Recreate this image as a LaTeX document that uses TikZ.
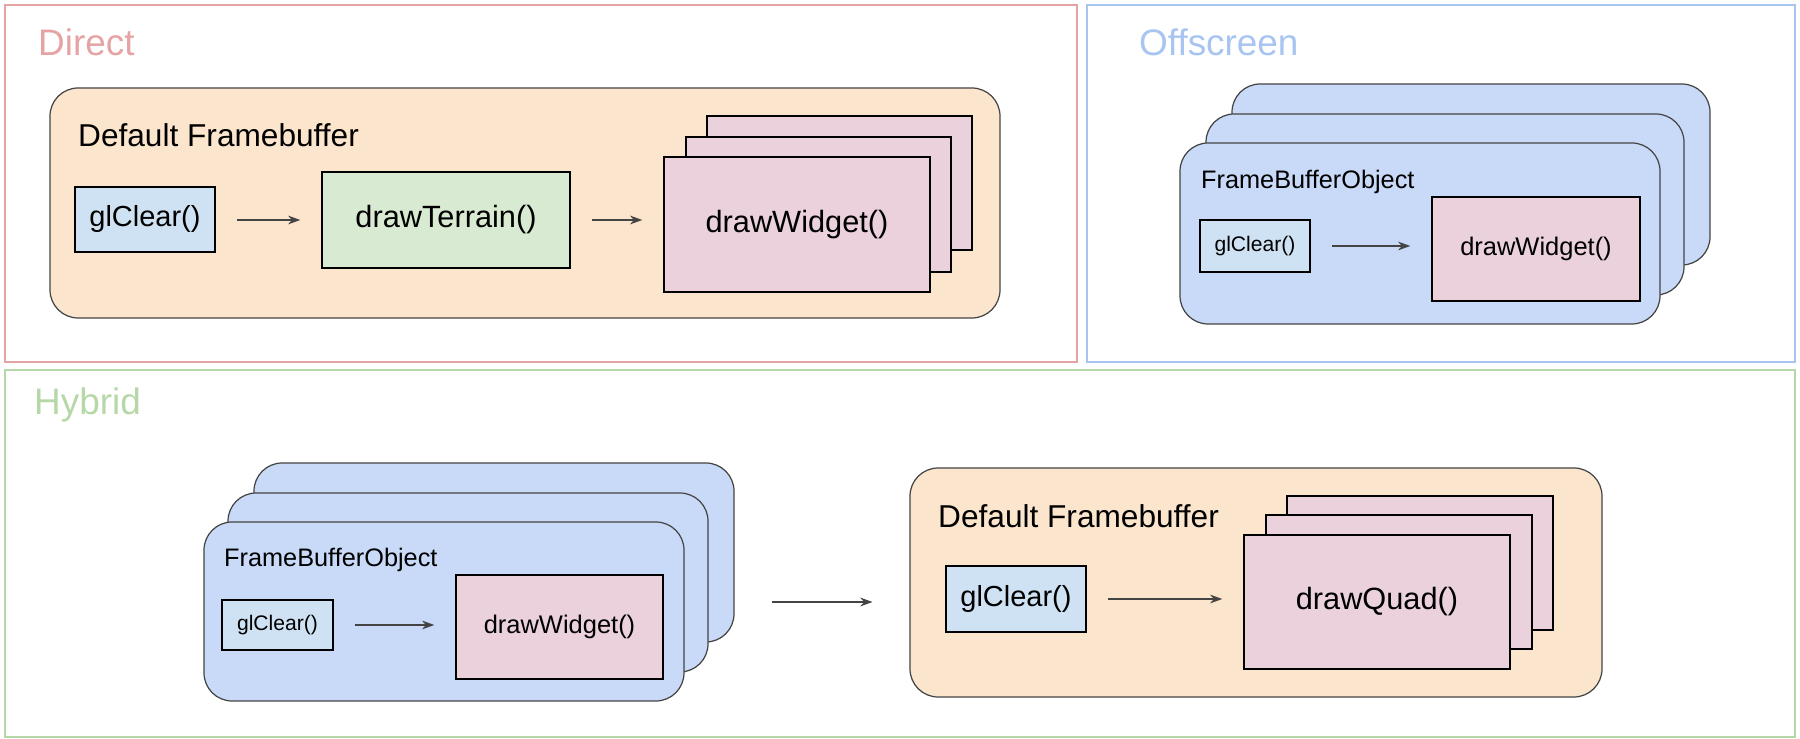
\documentclass[tikz,border=0pt]{standalone}
\usepackage{fontspec}
\setmainfont{Liberation Sans}
\usetikzlibrary{fit,arrows.meta}
\definecolor{dirred}{HTML}{E6A3A3}
\definecolor{offblue}{HTML}{A8C4F0}
\definecolor{hybgreen}{HTML}{B6D7A8}
\definecolor{fbpeach}{HTML}{FCE5CD}
\definecolor{fboblue}{HTML}{C9DAF8}
\definecolor{clrblue}{HTML}{CFE2F3}
\definecolor{terrgreen}{HTML}{D9EAD3}
\definecolor{widpink}{HTML}{EAD1DC}
\definecolor{edge}{HTML}{444444}
\tikzset{
  frame/.style={draw=#1, line width=1pt},
  framelabel/.style={anchor=west, text=#1, font=\fontsize{21}{24}\selectfont},
  fb/.style={draw=edge, fill=#1, rounded corners=16pt, line width=0.7pt, inner sep=0pt},
  box/.style={draw=black, fill=#1, line width=0.7pt, inner sep=0pt},
  big/.style={label={[font=\fontsize{17.5}{20}\selectfont]center:#1}},
  mid/.style={label={[font=\fontsize{16.5}{19}\selectfont]center:#1}},
  small/.style={label={[font=\fontsize{14.5}{17}\selectfont]center:#1}},
  tiny/.style={label={[font=\fontsize{12}{14}\selectfont]center:#1}},
  flow/.style={-{Stealth[length=7pt,width=5pt]}, draw=edge, line width=0.8pt, shorten <=12pt, shorten >=12pt}
}
\begin{document}
\begin{tikzpicture}[x=0.02cm,y=-0.02cm]
\useasboundingbox (0,0) rectangle (1800,739);
% outer frames
\draw[frame=dirred] (5,5) rectangle (1077,362);
\node[framelabel=dirred] at (32,42) {Direct};
\draw[frame=offblue] (1087,5) rectangle (1795,362);
\node[framelabel=offblue] at (1133,42) {Offscreen};
\draw[frame=hybgreen] (5,370) rectangle (1795,737);
\node[framelabel=hybgreen] at (28,405) {Hybrid};
% direct
\node[fb=fbpeach, fit={(50,88) (1000,318)}] (dfb) {};
\node[anchor=west, font=\fontsize{18}{21}\selectfont] at (72,135) {Default Framebuffer};
\node[box=clrblue, fit={(75,187) (215,252)}, mid=glClear()] (dclr) {};
\node[box=terrgreen, fit={(322,172) (570,268)}, big=drawTerrain()] (dterr) {};
\node[box=widpink, fit={(707,116) (972,250)}] {};
\node[box=widpink, fit={(686,137) (951,272)}] {};
\node[box=widpink, fit={(664,157) (930,292)}, big=drawWidget()] (dwid) {};
\draw[flow] (dclr.east |- dterr) -- (dterr.west);
\draw[flow] (dterr.east) -- (dwid.west |- dterr);
% offscreen
\node[fb=fboblue, fit={(1232,84) (1710,265)}] {};
\node[fb=fboblue, fit={(1206,114) (1684,295)}] {};
\node[fb=fboblue, fit={(1180,143) (1660,324)}] (ofbo) {};
\node[anchor=west, font=\fontsize{14.4}{17}\selectfont] at (1195,182) {FrameBufferObject};
\node[box=clrblue, fit={(1200,220) (1310,272)}, tiny=glClear()] (oclr) {};
\node[box=widpink, fit={(1432,197) (1640,301)}, small=drawWidget()] (owid) {};
\draw[flow] (oclr.east) -- (owid.west |- oclr);
% hybrid
\node[fb=fboblue, fit={(254,463) (734,642)}] {};
\node[fb=fboblue, fit={(228,493) (708,672)}] {};
\node[fb=fboblue, fit={(204,522) (684,701)}] (hfbo) {};
\node[anchor=west, font=\fontsize{14.4}{17}\selectfont] at (218,560) {FrameBufferObject};
\node[box=clrblue, fit={(222,600) (333,650)}, tiny=glClear()] (hclr) {};
\node[box=widpink, fit={(456,575) (663,679)}, small=drawWidget()] (hwid) {};
\draw[flow] (hclr.east) -- (hwid.west |- hclr);
\node[fb=fbpeach, fit={(910,468) (1602,697)}] (hfb) {};
\node[anchor=west, font=\fontsize{18}{21}\selectfont] at (932,516) {Default Framebuffer};
\node[box=clrblue, fit={(946,566) (1086,632)}, mid=glClear()] (hfclr) {};
\node[box=widpink, fit={(1287,496) (1553,630)}] {};
\node[box=widpink, fit={(1266,515) (1532,649)}] {};
\node[box=widpink, fit={(1244,535) (1510,669)}, big=drawQuad()] (hquad) {};
\draw[flow] (hfclr.east) -- (hquad.west |- hfclr);
\coordinate (hmid) at (hfbo.east |- 0,602);
\draw[flow, shorten <=50pt, shorten >=21pt] (hmid) -- (hfb.west |- hmid);
\end{tikzpicture}
\end{document}
